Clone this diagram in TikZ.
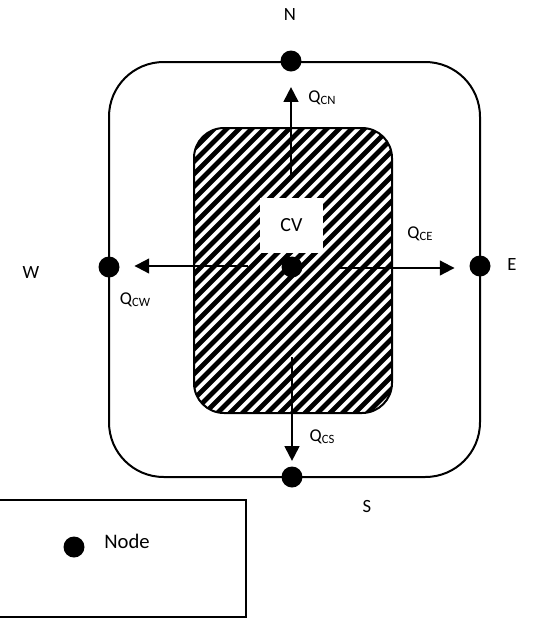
\documentclass[tikz,border=0pt]{standalone}
\usepackage{fontspec}
\setmainfont{Carlito}
\usetikzlibrary{arrows.meta}
\newcommand\fluxlbl[1]{Q\raisebox{-0.12em}{\fontsize{9.5}{9.5}\selectfont #1}}
\begin{document}
\begin{tikzpicture}[x=0.75pt,y=-0.75pt,
  dot/.style={circle,fill=black,inner sep=0pt,minimum size=15.75pt},
  flow/.style={line width=1.5pt,-{Triangle[length=11pt,width=11pt]}},
  dirlbl/.style={font=\fontsize{14}{14}\selectfont,inner sep=0pt},
  qlbl/.style={font=\fontsize{13.5}{13.5}\selectfont,inner sep=0pt},
  frame/.style={line width=1.5pt},
  hatchline/.style={line width=3.6pt}]
\useasboundingbox (0,0) rectangle (545,619);
% outer boundary
\draw[frame,rounded corners=41pt] (109,62) rectangle (480,477);
% hatched control volume
\begin{scope}
  \clip[rounded corners=22.5pt] (194,128) rectangle (392,413);
  \foreach \i in {0,...,40} \draw[hatchline] ({-100+\i*12.5},418) -- ++(330,-330);
\end{scope}
\draw[frame,rounded corners=22.5pt] (194,128) rectangle (392,413);
% CV label box
\node[fill=white,minimum width=47.25pt,minimum height=41.25pt,inner sep=0pt,
      font=\fontsize{15}{15}\selectfont] (cv) at (291.5,225.5) {CV};
% nodes
\node[dot] (nC) at (292,267) {};
\node[dot] (nN) at (291,61) {};
\node[dot] (nS) at (292,477) {};
\node[dot] (nW) at (109,267) {};
\node[dot] (nE) at (480,266) {};
% arrow starts
\coordinate (aN) at (291,180);
\coordinate (aS) at (292,357);
\coordinate (aW) at (248,266);
\coordinate (aE) at (340,268);
\draw[flow,shorten >=11.5pt] (aN) -- (nN);
\draw[flow,shorten >=4pt] (aS) -- (nS);
\draw[flow,shorten >=11pt] (aW) -- (nW.east |- aW);
\draw[flow,shorten >=11pt] (aE) -- (nE.west |- aE);
% direction labels
\node[dirlbl] (tN) at (290,15) {N};
\node[dirlbl] (tS) at (367,507) {S};
\node[dirlbl] (tW) at (31,273) {W};
\node[dirlbl] (tE) at (512,265) {E};
% flux labels
\node[qlbl] (qN) at (322,98) {\fluxlbl{CN}};
\node[qlbl] (qE) at (420,234) {\fluxlbl{CE}};
\node[qlbl] (qW) at (135,300) {\fluxlbl{CW}};
\node[qlbl] (qS) at (322,437) {\fluxlbl{CS}};
% legend
\draw[frame] (-2,500) rectangle (246,617);
\node[dot] (legdot) at (74,547) {};
\node[font=\fontsize{15.5}{15.5}\selectfont,inner sep=0pt] (legtxt) at (127,541) {Node};
\end{tikzpicture}
\end{document}
